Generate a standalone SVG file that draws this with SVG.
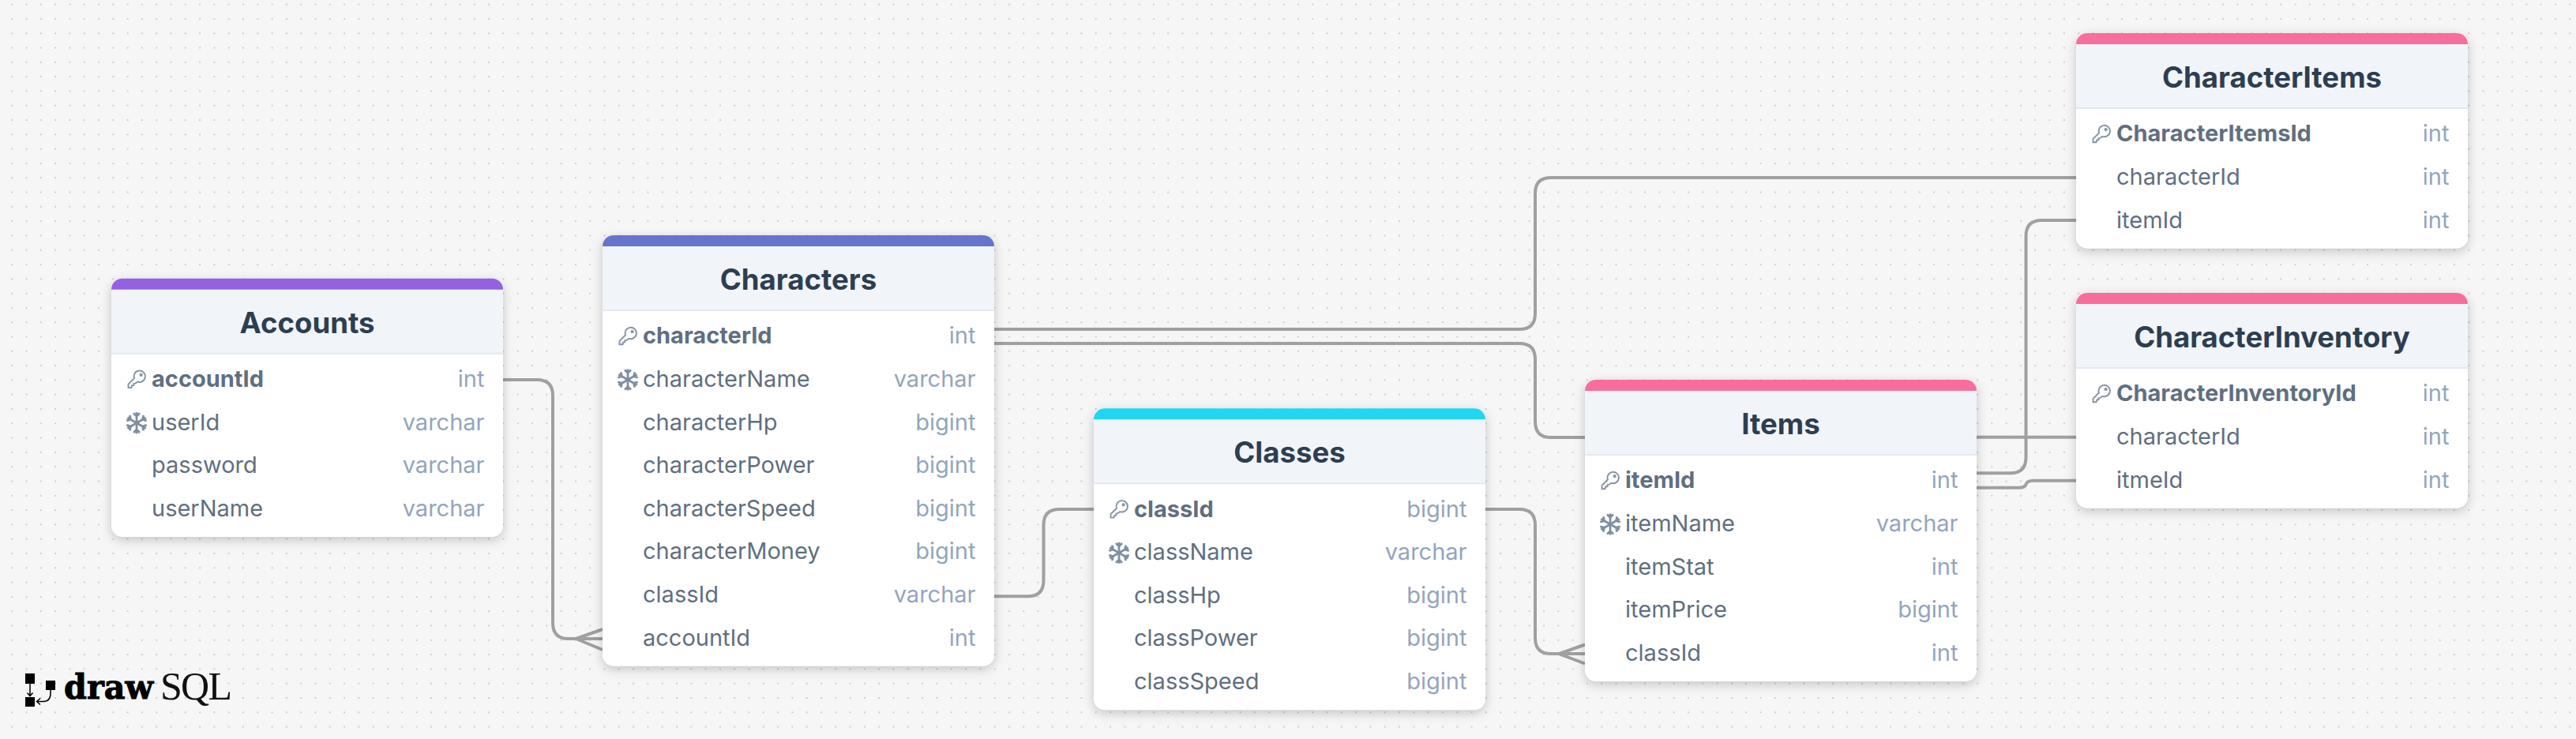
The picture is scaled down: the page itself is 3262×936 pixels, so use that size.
<svg xmlns="http://www.w3.org/2000/svg" xmlns:xlink="http://www.w3.org/1999/xlink" width="3262" height="936" viewBox="0 0 3262 936">
<style>
.card{fill:#fff;filter:drop-shadow(0 4px 7px rgba(0,0,0,.2))}
.head{fill:#f1f5f9}
.sep{stroke:#e2e8f0;stroke-width:2}
.title{font:700 36.6px Inter,"Liberation Sans",sans-serif;fill:#2d3e52;text-anchor:middle}
.f{font:400 29px Inter,"Liberation Sans",sans-serif;fill:#5f6f81}
.b{font-weight:700}
.t{font:400 29px Inter,"Liberation Sans",sans-serif;fill:#93a5be;text-anchor:end}
.c{fill:none;stroke:#a0a0a0;stroke-width:4}
.purple{fill:#9461e1}.indigo{fill:#6574cd}.cyan{fill:#21d6f0}.pink{fill:#f76d9b}
.key{fill:none;stroke:#8494a5;stroke-width:1.9}
.flake{fill:none;stroke:#7e8fa1;stroke-width:2.8}
</style>
<defs>
<pattern id="dots" width="18.3" height="18.3" patternUnits="userSpaceOnUse" x="14.2" y="4.6">
<rect x="0.2" y="0.2" width="1.7" height="1.7" fill="#c0c0c0"/>
</pattern>
<path id="bar" d="M0 14A14 14 0 0 1 14 0H482A14 14 0 0 1 496 14Z"/>
<symbol id="key" overflow="visible">
<path class="key" d="M-3.07-1.84L-10.5 5.6V10H-6.5L-6 7.4L-3.6 7V4.8L-1.6 4.6L1.24 2.47A7.2 7.2 0 1 0-3.07-1.84Z"/>
<circle class="key" cx="5.6" cy="-6.2" r="1.2"/>
</symbol>
<symbol id="flake" overflow="visible">
<g class="flake">
<path id="arm" d="M0 0V-13.5M-4-12.4L0-8.6L4-12.4"/>
<use xlink:href="#arm" transform="rotate(60)"/><use xlink:href="#arm" transform="rotate(120)"/><use xlink:href="#arm" transform="rotate(180)"/><use xlink:href="#arm" transform="rotate(240)"/><use xlink:href="#arm" transform="rotate(300)"/>
</g>
</symbol>
</defs>
<rect width="3262" height="936" fill="#f6f6f6"/>
<rect width="3262" height="936" fill="url(#dots)"/>

<g id="connectors">
<path class="c" d="M637 481H680Q700 481 700 501V789Q700 809 720 809H763M763 797L729.5 809L763 823"/>
<path class="c" d="M1259 417H1924Q1944 417 1944 397V245Q1944 225 1964 225H2629"/>
<path class="c" d="M1259 435H1924Q1944 435 1944 455V534Q1944 554 1964 554H2007"/>
<path class="c" d="M1259 755.3H1301.5Q1321.5 755.3 1321.5 735.3V665Q1321.5 645 1341.5 645H1385"/>
<path class="c" d="M1881 645H1924Q1944 645 1944 665V808Q1944 828 1964 828H2007M2007 816.5L1974 828L2007 840.5"/>
<path class="c" d="M2503 599.3H2545.5Q2565.5 599.3 2565.5 579.3V299Q2565.5 279 2585.5 279H2629"/>
<path class="c" d="M2503 553.7H2629"/>
<path class="c" d="M2503 617.7H2556Q2564 617.7 2565.5 613.5Q2567 608.8 2575 608.8H2629"/>
</g>

<g id="Accounts" transform="translate(141 352.7)">
<rect class="card" width="496" height="327.3" rx="14"/>
<rect class="head" y="14" width="496" height="81"/><path class="sep" d="M0 95H496"/><use xlink:href="#bar" class="purple"/>
<text class="title" x="248" y="69">Accounts</text>
<use xlink:href="#key" x="32" y="128.3"/><text class="f b" x="51" y="137.3">accountId</text><text class="t" x="472.5" y="137.3">int</text>
<use xlink:href="#flake" x="32" y="183"/><text class="f" x="51" y="191.9">userId</text><text class="t" x="472.5" y="191.9">varchar</text>
<text class="f" x="51" y="246.5">password</text><text class="t" x="472.5" y="246.5">varchar</text>
<text class="f" x="51" y="301.1">userName</text><text class="t" x="472.5" y="301.1">varchar</text>
</g>

<g id="Characters" transform="translate(763 298)">
<rect class="card" width="496" height="545.7" rx="14"/>
<rect class="head" y="14" width="496" height="81"/><path class="sep" d="M0 95H496"/><use xlink:href="#bar" class="indigo"/>
<text class="title" x="248" y="69">Characters</text>
<use xlink:href="#key" x="32" y="128.3"/><text class="f b" x="51" y="137.3">characterId</text><text class="t" x="472.5" y="137.3">int</text>
<use xlink:href="#flake" x="32" y="183"/><text class="f" x="51" y="191.9">characterName</text><text class="t" x="472.5" y="191.9">varchar</text>
<text class="f" x="51" y="246.5">characterHp</text><text class="t" x="472.5" y="246.5">bigint</text>
<text class="f" x="51" y="301.1">characterPower</text><text class="t" x="472.5" y="301.1">bigint</text>
<text class="f" x="51" y="355.7">characterSpeed</text><text class="t" x="472.5" y="355.7">bigint</text>
<text class="f" x="51" y="410.3">characterMoney</text><text class="t" x="472.5" y="410.3">bigint</text>
<text class="f" x="51" y="464.9">classId</text><text class="t" x="472.5" y="464.9">varchar</text>
<text class="f" x="51" y="519.5">accountId</text><text class="t" x="472.5" y="519.5">int</text>
</g>

<g id="Classes" transform="translate(1385 517.3)">
<rect class="card" width="496" height="382" rx="14"/>
<rect class="head" y="14" width="496" height="81"/><path class="sep" d="M0 95H496"/><use xlink:href="#bar" class="cyan"/>
<text class="title" x="248" y="69">Classes</text>
<use xlink:href="#key" x="32" y="128.3"/><text class="f b" x="51" y="137.3">classId</text><text class="t" x="472.5" y="137.3">bigint</text>
<use xlink:href="#flake" x="32" y="183"/><text class="f" x="51" y="191.9">className</text><text class="t" x="472.5" y="191.9">varchar</text>
<text class="f" x="51" y="246.5">classHp</text><text class="t" x="472.5" y="246.5">bigint</text>
<text class="f" x="51" y="301.1">classPower</text><text class="t" x="472.5" y="301.1">bigint</text>
<text class="f" x="51" y="355.7">classSpeed</text><text class="t" x="472.5" y="355.7">bigint</text>
</g>

<g id="Items" transform="translate(2007 481)">
<rect class="card" width="496" height="382" rx="14"/>
<rect class="head" y="14" width="496" height="81"/><path class="sep" d="M0 95H496"/><use xlink:href="#bar" class="pink"/>
<text class="title" x="248" y="69">Items</text>
<use xlink:href="#key" x="32" y="128.3"/><text class="f b" x="51" y="137.3">itemId</text><text class="t" x="472.5" y="137.3">int</text>
<use xlink:href="#flake" x="32" y="183"/><text class="f" x="51" y="191.9">itemName</text><text class="t" x="472.5" y="191.9">varchar</text>
<text class="f" x="51" y="246.5">itemStat</text><text class="t" x="472.5" y="246.5">int</text>
<text class="f" x="51" y="301.1">itemPrice</text><text class="t" x="472.5" y="301.1">bigint</text>
<text class="f" x="51" y="355.7">classId</text><text class="t" x="472.5" y="355.7">int</text>
</g>

<g id="CharacterItems" transform="translate(2629 42)">
<rect class="card" width="496" height="272.7" rx="14"/>
<rect class="head" y="14" width="496" height="81"/><path class="sep" d="M0 95H496"/><use xlink:href="#bar" class="pink"/>
<text class="title" x="248" y="69">CharacterItems</text>
<use xlink:href="#key" x="32" y="128.3"/><text class="f b" x="51" y="137.3">CharacterItemsId</text><text class="t" x="472.5" y="137.3">int</text>
<text class="f" x="51" y="191.9">characterId</text><text class="t" x="472.5" y="191.9">int</text>
<text class="f" x="51" y="246.5">itemId</text><text class="t" x="472.5" y="246.5">int</text>
</g>

<g id="CharacterInventory" transform="translate(2629 371)">
<rect class="card" width="496" height="272.7" rx="14"/>
<rect class="head" y="14" width="496" height="81"/><path class="sep" d="M0 95H496"/><use xlink:href="#bar" class="pink"/>
<text class="title" x="248" y="69">CharacterInventory</text>
<use xlink:href="#key" x="32" y="128.3"/><text class="f b" x="51" y="137.3">CharacterInventoryId</text><text class="t" x="472.5" y="137.3">int</text>
<text class="f" x="51" y="191.9">characterId</text><text class="t" x="472.5" y="191.9">int</text>
<text class="f" x="51" y="246.5">itmeId</text><text class="t" x="472.5" y="246.5">int</text>
</g>

<g id="logo">
<rect x="32" y="853" width="12" height="13" fill="#000"/>
<rect x="32" y="883" width="12" height="12" fill="#000"/>
<rect x="58" y="862" width="12" height="12" fill="#000"/>
<path d="M38 866V881M34.5 877.5L38 881.5L41.5 877.5M64 874V878Q64 888.5 55 888.5H47M51 884.5L46.5 888.5L51 892.5" fill="none" stroke="#000" stroke-width="1.5"/>
<text x="81" y="885" font-family="'DejaVu Serif',serif" font-weight="700" font-size="42" fill="#000" stroke="#000" stroke-width="1" textLength="113" lengthAdjust="spacingAndGlyphs">draw</text>
<text x="203" y="886" font-family="'Liberation Serif',serif" font-size="50" fill="#111" textLength="91" lengthAdjust="spacing">SQL</text>
</g>
</svg>
